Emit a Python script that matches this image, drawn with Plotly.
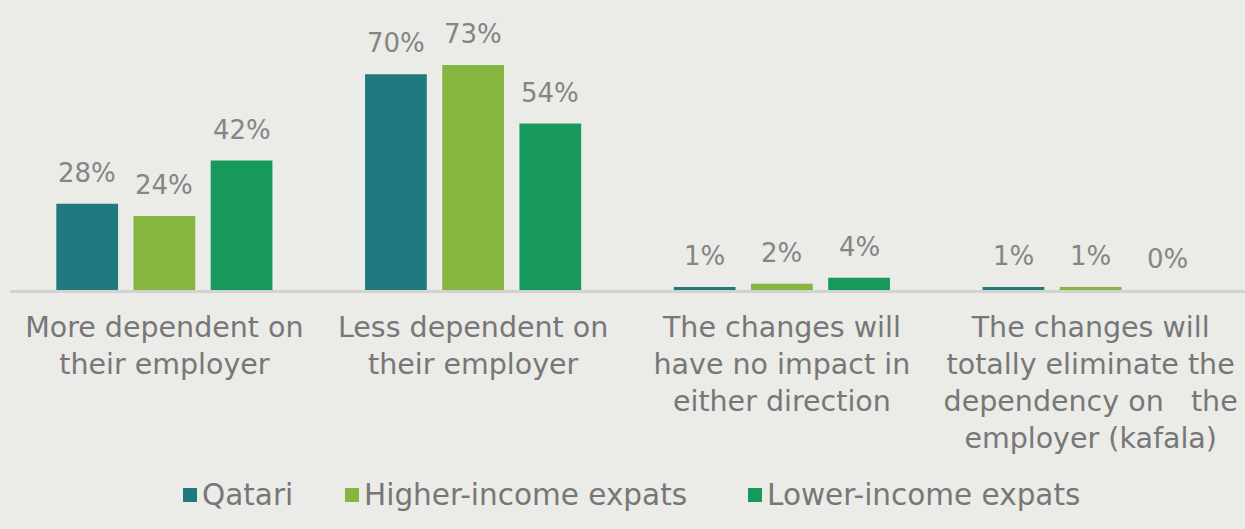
import plotly.graph_objects as go

# Survey answers: how the labour-law changes affect dependency on the employer
category_lines = [
    ["More dependent on", "their employer"],
    ["Less dependent on", "their employer"],
    ["The changes will", "have no impact in", "either direction"],
    ["The changes will", "totally eliminate the", "dependency on\u00a0\u00a0 the", "employer (kafala)"],
]
categories = ["<br>".join(lines) for lines in category_lines]

series_names = ["Qatari", "Higher-income expats", "Lower-income expats"]
qatari = [28, 70, 1, 1]
higher_income = [24, 73, 2, 1]
lower_income = [42, 54, 4, 0]
series_values = [qatari, higher_income, lower_income]
series_colors = ["#1f7a80", "#86b540", "#17995b"]

W, H = 1245, 529
ML, MR, MT, MB = 10, 0, 20, 239
BARGAP, BARGROUPGAP = 0.25, 0.2
Y_MAX = 87.6

BG = "#ebebe8"
LABEL_GREY = "#777777"
VALUE_GREY = "#858585"
FONT = "DejaVu Sans, Verdana, sans-serif"

fig = go.Figure()
x_idx = list(range(len(categories)))
for name, vals, col in zip(series_names, series_values, series_colors):
    fig.add_trace(go.Bar(
        x=x_idx, y=vals, name=name, marker=dict(color=col, line=dict(width=0)),
        showlegend=False, hoverinfo="skip",
    ))

# value labels above each bar
plot_w = W - ML - MR
plot_h = H - MT - MB
slot_px = plot_w / len(categories) * (1 - BARGAP) / len(series_names)
annotations = []
for s, vals in enumerate(series_values):
    offset = (s - (len(series_names) - 1) / 2) * slot_px
    for i, v in enumerate(vals):
        annotations.append(dict(
            x=i, y=v, xref="x", yref="y", text=f"{v}%", showarrow=False,
            xanchor="center", yanchor="bottom", xshift=offset, yshift=14,
            font=dict(family=FONT, size=26, color=VALUE_GREY),
        ))

# legend: coloured square followed by the series name
legend_left_px = [183, 345, 748]
legend_center_y = 495
shapes = []
for name, col, px in zip(series_names, series_colors, legend_left_px):
    x0 = (px - ML) / plot_w
    x1 = (px + 14 - ML) / plot_w
    y0 = (H - MB - (legend_center_y + 7)) / plot_h
    y1 = (H - MB - (legend_center_y - 7)) / plot_h
    shapes.append(dict(type="rect", xref="paper", yref="paper", x0=x0, x1=x1,
                       y0=y0, y1=y1, fillcolor=col, line=dict(width=0)))
    annotations.append(dict(
        x=(px + 17 - ML) / plot_w, y=(H - MB - legend_center_y) / plot_h,
        xref="paper", yref="paper", text=name, showarrow=False,
        xanchor="left", yanchor="middle",
        font=dict(family=FONT, size=29.5, color=LABEL_GREY),
    ))

fig.update_layout(
    width=W, height=H,
    margin=dict(l=ML, r=MR, t=MT, b=MB, pad=0),
    paper_bgcolor=BG, plot_bgcolor=BG,
    barmode="group", bargap=BARGAP, bargroupgap=BARGROUPGAP,
    showlegend=False,
    annotations=annotations, shapes=shapes,
    xaxis=dict(
        tickmode="array", tickvals=x_idx, ticktext=categories,
        range=[-0.5, len(categories) - 0.5],
        showline=True, linecolor="#d2d2ce", linewidth=3,
        showgrid=False, zeroline=False,
        ticks="outside", ticklen=10, tickcolor="rgba(0,0,0,0)",
        tickfont=dict(family=FONT, size=28.5, color=LABEL_GREY),
    ),
    yaxis=dict(range=[0, Y_MAX], visible=False, showgrid=False, zeroline=False),
)

fig.write_html("out.html")
